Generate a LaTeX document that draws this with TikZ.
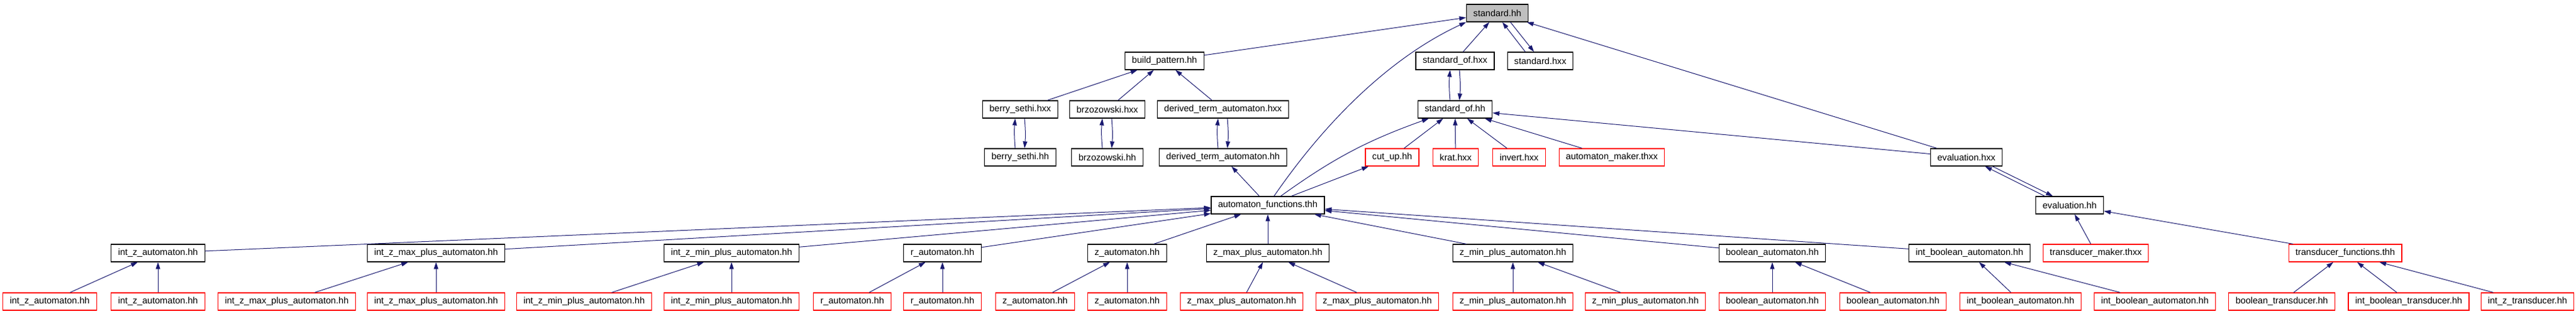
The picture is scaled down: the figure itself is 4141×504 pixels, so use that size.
\documentclass[tikz,border=0pt]{standalone}
\usepackage{fontspec}
\setmainfont{Liberation Sans}
\usepackage{xcolor}
\usetikzlibrary{arrows.meta}
\definecolor{edgeblue}{HTML}{191970}
\definecolor{undocred}{HTML}{FF0000}
\definecolor{rootgrey}{HTML}{BFBFBF}
\tikzset{
    file-box/.style = {draw=black, fill=white, line width=1.2pt, rectangle, minimum height=28pt, inner xsep=11pt, inner ysep=0pt, font=\fontsize{14.6}{16}\selectfont},
    file-box-undoc/.style = {file-box, draw=undocred},
    file-box-root/.style = {file-box, fill=rootgrey},
    include-edge/.style = {draw=edgeblue, line width=1pt, -{Triangle[length=11pt,width=7pt]}},
}

\begin{document}
\begin{tikzpicture}[x=1pt, y=-1pt]
\useasboundingbox (0,0) rectangle (4141,504);

\node[file-box-root] (std) at (2407,21) {standard.hh};

\node[file-box] (bpat) at (1872,98) {build\_pattern.hh};
\node[file-box] (stdofx) at (2339,98) {standard\_of.hxx};
\node[file-box] (stdx) at (2476,98) {standard.hxx};

\node[file-box] (bsx) at (1640,176) {berry\_sethi.hxx};
\node[file-box] (brzx) at (1780,176) {brzozowski.hxx};
\node[file-box] (dtax) at (1966,176) {derived\_term\_automaton.hxx};
\node[file-box] (stdof) at (2339,176) {standard\_of.hh};

\node[file-box] (bs) at (1640,253) {berry\_sethi.hh};
\node[file-box] (brz) at (1780,253) {brzozowski.hh};
\node[file-box] (dta) at (1966,253) {derived\_term\_automaton.hh};
\node[file-box-undoc] (cut) at (2238,253) {cut\_up.hh};
\node[file-box-undoc] (krat) at (2340,253) {krat.hxx};
\node[file-box-undoc] (inv) at (2442,253) {invert.hxx};
\node[file-box-undoc] (amk) at (2591,253) {automaton\_maker.thxx};
\node[file-box] (evalx) at (3161,253) {evaluation.hxx};

\node[file-box] (afun) at (2038,330) {automaton\_functions.thh};
\node[file-box] (eval) at (3327,330) {evaluation.hh};

\node[file-box] (izA) at (254,407) {int\_z\_automaton.hh};
\node[file-box] (izmaxA) at (701,407) {int\_z\_max\_plus\_automaton.hh};
\node[file-box] (izminA) at (1176,407) {int\_z\_min\_plus\_automaton.hh};
\node[file-box] (rA) at (1515,407) {r\_automaton.hh};
\node[file-box] (zA) at (1812,407) {z\_automaton.hh};
\node[file-box] (zmaxA) at (2038,407) {z\_max\_plus\_automaton.hh};
\node[file-box] (zminA) at (2432,407) {z\_min\_plus\_automaton.hh};
\node[file-box] (bA) at (2849,407) {boolean\_automaton.hh};
\node[file-box] (ibA) at (3166,407) {int\_boolean\_automaton.hh};
\node[file-box-undoc] (tmk) at (3369,407) {transducer\_maker.thxx};
\node[file-box-undoc] (tfun) at (3770,407) {transducer\_functions.thh};

\node[file-box-undoc] (izA1) at (80,485) {int\_z\_automaton.hh};
\node[file-box-undoc] (izA2) at (254,485) {int\_z\_automaton.hh};
\node[file-box-undoc] (izmaxA1) at (461,485) {int\_z\_max\_plus\_automaton.hh};
\node[file-box-undoc] (izmaxA2) at (701,485) {int\_z\_max\_plus\_automaton.hh};
\node[file-box-undoc] (izminA1) at (939,485) {int\_z\_min\_plus\_automaton.hh};
\node[file-box-undoc] (izminA2) at (1176,485) {int\_z\_min\_plus\_automaton.hh};
\node[file-box-undoc] (rA1) at (1370,485) {r\_automaton.hh};
\node[file-box-undoc] (rA2) at (1515,485) {r\_automaton.hh};
\node[file-box-undoc] (zA1) at (1664,485) {z\_automaton.hh};
\node[file-box-undoc] (zA2) at (1812,485) {z\_automaton.hh};
\node[file-box-undoc] (zmaxA1) at (1996,485) {z\_max\_plus\_automaton.hh};
\node[file-box-undoc] (zmaxA2) at (2214,485) {z\_max\_plus\_automaton.hh};
\node[file-box-undoc] (zminA1) at (2432,485) {z\_min\_plus\_automaton.hh};
\node[file-box-undoc] (zminA2) at (2645,485) {z\_min\_plus\_automaton.hh};
\node[file-box-undoc] (bA1) at (2849,485) {boolean\_automaton.hh};
\node[file-box-undoc] (bA2) at (3043,485) {boolean\_automaton.hh};
\node[file-box-undoc] (ibA1) at (3248,485) {int\_boolean\_automaton.hh};
\node[file-box-undoc] (ibA2) at (3464,485) {int\_boolean\_automaton.hh};
\node[file-box-undoc] (bt) at (3668,485) {boolean\_transducer.hh};
\node[file-box-undoc] (ibt) at (3872,485) {int\_boolean\_transducer.hh};
\node[file-box-undoc] (izt) at (4063,485) {int\_z\_transducer.hh};

\draw[include-edge] (bpat) -- (std);
\draw[include-edge] ([xshift=10pt]afun.north) .. controls (2145,175) and (2250,85) .. (std.south west);
\draw[include-edge] (stdofx) -- (std);
\draw[include-edge] ([xshift=-24pt]stdx.north) -- ([xshift=8pt]std.south);
\draw[include-edge] ([xshift=21pt]std.south) -- ([xshift=-10pt]stdx.north);
\draw[include-edge] (evalx) -- (std);

\draw[include-edge] (bsx) -- (bpat);
\draw[include-edge] (brzx) -- (bpat);
\draw[include-edge] (dtax) -- (bpat);

\draw[include-edge] ([xshift=-8pt]bs.north) to[bend left=5] ([xshift=-8pt]bsx.south);
\draw[include-edge] ([xshift=7pt]bsx.south) to[bend left=5] ([xshift=7pt]bs.north);
\draw[include-edge] ([xshift=-8pt]brz.north) to[bend left=5] ([xshift=-8pt]brzx.south);
\draw[include-edge] ([xshift=7pt]brzx.south) to[bend left=5] ([xshift=7pt]brz.north);
\draw[include-edge] ([xshift=-8pt]dta.north) to[bend left=5] ([xshift=-8pt]dtax.south);
\draw[include-edge] ([xshift=7pt]dtax.south) to[bend left=5] ([xshift=7pt]dta.north);
\draw[include-edge] ([xshift=-8pt]stdof.north) to[bend left=5] ([xshift=-8pt]stdofx.south);
\draw[include-edge] ([xshift=7pt]stdofx.south) to[bend left=5] ([xshift=7pt]stdof.north);

\draw[include-edge] (afun) -- (dta);
\draw[include-edge] (afun) to[bend left=8] (stdof);
\draw[include-edge] (afun) -- (cut);
\draw[include-edge] (cut) -- (stdof);
\draw[include-edge] (krat) -- (stdof);
\draw[include-edge] (inv) -- (stdof);
\draw[include-edge] (amk) -- (stdof);
\draw[include-edge] (evalx) -- (stdof);

\draw[include-edge] ([xshift=-40pt]eval.north) -- ([xshift=30pt]evalx.south);
\draw[include-edge] ([xshift=42pt]evalx.south) -- ([xshift=-27pt]eval.north);
\draw[include-edge] (tmk) -- (eval);
\draw[include-edge] (tfun) -- (eval);

\draw[include-edge] (izA) -- (afun);
\draw[include-edge] (izmaxA) -- (afun);
\draw[include-edge] (izminA) -- (afun);
\draw[include-edge] (rA) -- (afun);
\draw[include-edge] (zA) -- (afun);
\draw[include-edge] (zmaxA) -- (afun);
\draw[include-edge] (zminA) -- (afun);
\draw[include-edge] (bA) -- (afun);
\draw[include-edge] (ibA) -- (afun);

\draw[include-edge] (izA1) -- (izA);
\draw[include-edge] (izA2) -- (izA);
\draw[include-edge] (izmaxA1) -- (izmaxA);
\draw[include-edge] (izmaxA2) -- (izmaxA);
\draw[include-edge] (izminA1) -- (izminA);
\draw[include-edge] (izminA2) -- (izminA);
\draw[include-edge] (rA1) -- (rA);
\draw[include-edge] (rA2) -- (rA);
\draw[include-edge] (zA1) -- (zA);
\draw[include-edge] (zA2) -- (zA);
\draw[include-edge] (zmaxA1) -- (zmaxA);
\draw[include-edge] (zmaxA2) -- (zmaxA);
\draw[include-edge] (zminA1) -- (zminA);
\draw[include-edge] (zminA2) -- (zminA);
\draw[include-edge] (bA1) -- (bA);
\draw[include-edge] (bA2) -- (bA);
\draw[include-edge] (ibA1) -- (ibA);
\draw[include-edge] (ibA2) -- (ibA);
\draw[include-edge] (bt) -- (tfun);
\draw[include-edge] (ibt) -- (tfun);
\draw[include-edge] (izt) -- (tfun);
\end{tikzpicture}
\end{document}
